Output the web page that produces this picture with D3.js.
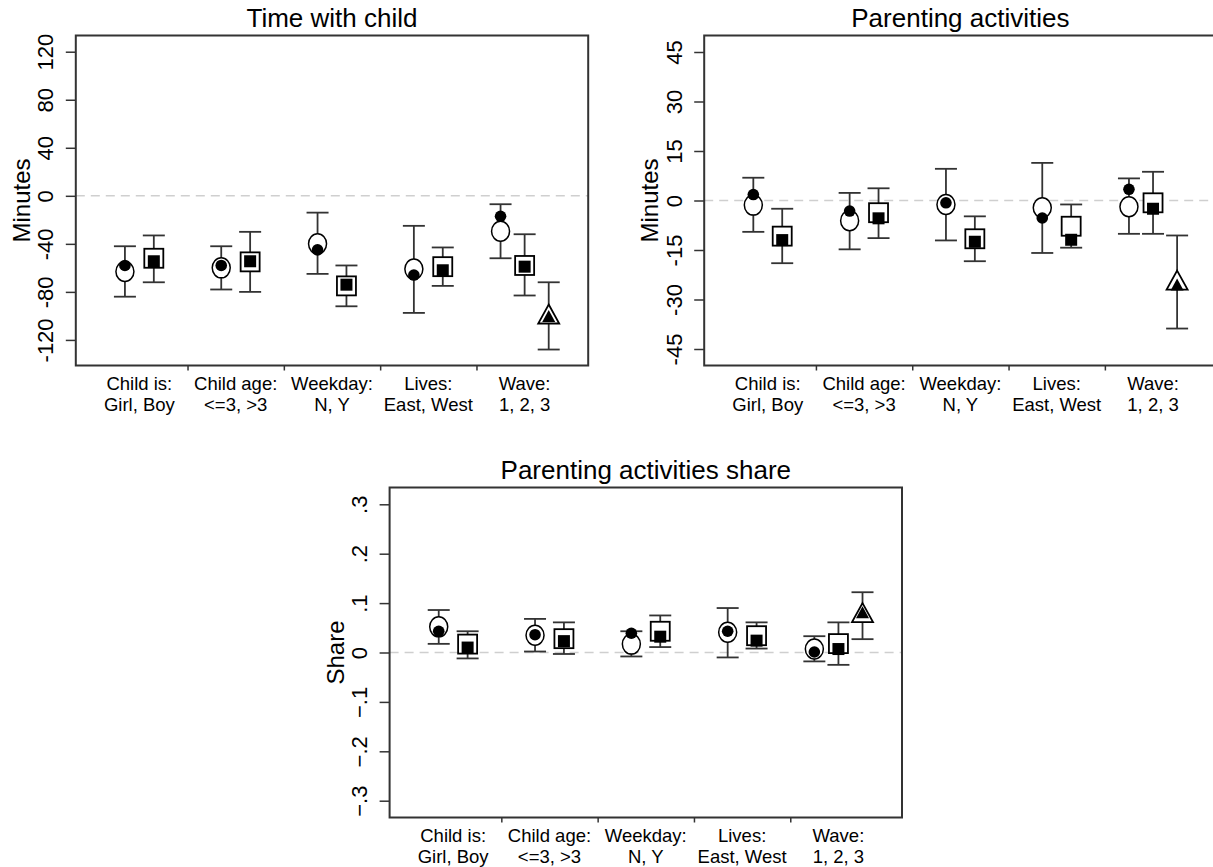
<!DOCTYPE html>
<html>
<head>
<meta charset="utf-8">
<script src="https://cdn.jsdelivr.net/npm/d3@7"></script>
<style>
  html, body { margin: 0; padding: 0; background: #fff; }
  svg { display: block; font-family: "Liberation Sans", Arial, sans-serif; }
</style>
</head>
<body>
<svg id="chart" width="1213" height="867"></svg>
<script>
// ---------------- data ----------------
const groupLine1 = ["Child is:", "Child age:", "Weekday:", "Lives:", "Wave:"];
const groupLine2 = ["Girl, Boy", "<=3, >3", "N, Y", "East, West", "1, 2, 3"];
const levelShapes = ["circle", "square", "triangle"];

// Panel 1: Time with child (minutes)
const timeEst = [[-63, -52], [-60, -55], [-40, -75], [-61, -59], [-29.5, -58, -100]];
const timeLo  = [[-84, -72], [-78, -80], [-65, -92], [-97.5, -75], [-52, -83, -128]];
const timeHi  = [[-42, -33], [-42, -30], [-14, -58], [-25, -43], [-7, -32, -72]];
const timeAlt = [[-58, -54.5], [-58, -54.5], [-45, -74], [-66, -62], [-17, -59, -101]];
const timeTicks = [120, 80, 40, 0, -40, -80, -120];

// Panel 2: Parenting activities (minutes)
const parEst = [[-1.4, -10.8], [-6.1, -3.7], [-1.2, -11.6], [-2.2, -7.8], [-1.9, -0.7, -24.7]];
const parLo  = [[-9.5, -19], [-14.8, -11.4], [-12.1, -18.4], [-15.9, -14.3], [-10.1, -10.1, -38.8]];
const parHi  = [[6.9, -2.5], [2.3, 3.7], [9.6, -4.8], [11.4, -1.2], [6.7, 8.7, -10.6]];
const parAlt = [[1.8, -12], [-3.2, -5.4], [-0.7, -12.5], [-5.3, -11.9], [3.4, -2.5, -25.8]];
const parTicks = [45, 30, 15, 0, -15, -30, -45];

// Panel 3: Parenting activities share
const shareEst = [[0.052, 0.017], [0.035, 0.028], [0.017, 0.043], [0.041, 0.034], [0.007, 0.018, 0.077]];
const shareLo  = [[0.0175, -0.012], [0.002, -0.003], [-0.008, 0.011], [-0.010, 0.008], [-0.018, -0.025, 0.027]];
const shareHi  = [[0.086, 0.043], [0.068, 0.061], [0.043, 0.075], [0.090, 0.061], [0.033, 0.061, 0.122]];
const shareAlt = [[0.043, 0.010], [0.036, 0.023], [0.039, 0.032], [0.043, 0.024], [0.001, 0.007, 0.079]];
const shareTicks = [0.3, 0.2, 0.1, 0, -0.1, -0.2, -0.3];

// ---------------- drawing ----------------
const svg = d3.select("#chart");
const FONT = "'Liberation Sans', Arial, sans-serif";

const panels = [
  { title: "Time with child", ytitle: "Minutes", left: 75.8, top: 35.5, w: 512.4, h: 330,
    domain: [-141.3, 133.5], ticks: timeTicks, fmt: d => String(d),
    est: timeEst, lo: timeLo, hi: timeHi, alt: timeAlt },
  { title: "Parenting activities", ytitle: "Minutes", left: 704.2, top: 35.5, w: 512.4, h: 330,
    domain: [-50, 50], ticks: parTicks, fmt: d => String(d),
    est: parEst, lo: parLo, hi: parHi, alt: parAlt },
  { title: "Parenting activities share", ytitle: "Share", left: 389.6, top: 487.5, w: 512.4, h: 330,
    domain: [-0.334, 0.334], ticks: shareTicks,
    fmt: d => d === 0 ? "0" : d3.format(".1f")(d).replace("0.", "."),
    est: shareEst, lo: shareLo, hi: shareHi, alt: shareAlt }
];

function xOffset(i, n) {
  if (n === 2) return i === 0 ? -0.15 : 0.15;
  return (i - 1) * 0.25;
}

function trianglePath(cx, cy, w, h) {
  return `M${cx},${cy - h * 0.6}L${cx + w / 2},${cy + h * 0.4}L${cx - w / 2},${cy + h * 0.4}Z`;
}

panels.forEach(p => {
  const x = d3.scaleLinear().domain([0.34, 5.66]).range([p.left, p.left + p.w]);
  const y = d3.scaleLinear().domain(p.domain).range([p.top + p.h, p.top]);
  const g = svg.append("g");

  // zero line
  g.append("line")
    .attr("x1", p.left).attr("x2", p.left + p.w)
    .attr("y1", y(0)).attr("y2", y(0))
    .attr("stroke", "#cfcfcf").attr("stroke-width", 1.5)
    .attr("stroke-dasharray", "9,6");

  // y axis
  const ya = g.append("g").attr("transform", `translate(${p.left},0)`)
    .call(d3.axisLeft(y).tickValues(p.ticks).tickFormat(p.fmt).tickSize(10).tickPadding(0));
  ya.select(".domain").remove();
  ya.selectAll(".tick line").attr("stroke", "#333").attr("stroke-width", 1.5);
  ya.selectAll(".tick text")
    .attr("x", 0).attr("dy", null)
    .attr("text-anchor", "middle")
    .attr("transform", "translate(-22.5,0) rotate(-90)")
    .attr("fill", "#000")
    .style("font-family", FONT).style("font-size", "22px");

  // y title
  g.append("text")
    .attr("transform", `translate(${p.left - 46},${p.top + p.h / 2}) rotate(-90)`)
    .attr("text-anchor", "middle")
    .style("font-family", FONT).style("font-size", "24px")
    .text(p.ytitle);

  // x axis (category separators)
  const xa = g.append("g").attr("transform", `translate(0,${p.top + p.h})`)
    .call(d3.axisBottom(x).tickValues([1.5, 2.5, 3.5, 4.5]).tickFormat("").tickSize(5));
  xa.select(".domain").remove();
  xa.selectAll(".tick line").attr("stroke", "#333").attr("stroke-width", 1.5);

  // category labels (two lines in one text element)
  groupLine1.forEach((t, k) => {
    const txt = g.append("text")
      .attr("text-anchor", "middle")
      .style("font-family", FONT).style("font-size", "18.5px");
    txt.append("tspan").attr("x", x(k + 1)).attr("y", p.top + p.h + 24.5).text(t);
    txt.append("tspan").attr("x", x(k + 1)).attr("y", p.top + p.h + 45.5).text(groupLine2[k]);
  });

  // title
  g.append("text")
    .attr("x", p.left + p.w / 2).attr("y", p.top - 9)
    .attr("text-anchor", "middle")
    .style("font-family", FONT).style("font-size", "26px")
    .text(p.title);

  // points
  const pts = [];
  p.est.forEach((arr, k) => {
    arr.forEach((v, i) => {
      pts.push({ x: k + 1 + xOffset(i, arr.length), est: v, lo: p.lo[k][i], hi: p.hi[k][i],
                 alt: p.alt[k][i], shape: levelShapes[i] });
    });
  });

  const m = g.append("g");
  pts.forEach(d => {
    const cx = x(d.x);
    // error bar
    m.append("line").attr("x1", cx).attr("x2", cx).attr("y1", y(d.lo)).attr("y2", y(d.hi))
      .attr("stroke", "#333").attr("stroke-width", 1.8);
    [d.lo, d.hi].forEach(v => {
      m.append("line").attr("x1", cx - 11).attr("x2", cx + 11).attr("y1", y(v)).attr("y2", y(v))
        .attr("stroke", "#333").attr("stroke-width", 1.8);
    });
    const cy = y(d.est), ay = y(d.alt);
    if (d.shape === "circle") {
      m.append("ellipse").attr("cx", cx).attr("cy", cy).attr("rx", 9).attr("ry", 10)
        .attr("fill", "#fff").attr("stroke", "#000").attr("stroke-width", 1.5);
      m.append("circle").attr("cx", cx).attr("cy", ay).attr("r", 5.8).attr("fill", "#000");
    } else if (d.shape === "square") {
      m.append("rect").attr("x", cx - 9.5).attr("y", cy - 9.5).attr("width", 19).attr("height", 19)
        .attr("fill", "#fff").attr("stroke", "#000").attr("stroke-width", 1.8);
      m.append("rect").attr("x", cx - 6).attr("y", ay - 6).attr("width", 12).attr("height", 12)
        .attr("fill", "#000");
    } else {
      m.append("path").attr("d", trianglePath(cx, cy, 21, 19))
        .attr("fill", "#fff").attr("stroke", "#000").attr("stroke-width", 1.8);
      m.append("path").attr("d", trianglePath(cx, ay, 13, 12))
        .attr("fill", "#000");
    }
  });

  // frame
  g.append("rect").attr("x", p.left).attr("y", p.top).attr("width", p.w).attr("height", p.h)
    .attr("fill", "none").attr("stroke", "#333").attr("stroke-width", 2);
});
</script>
</body>
</html>
